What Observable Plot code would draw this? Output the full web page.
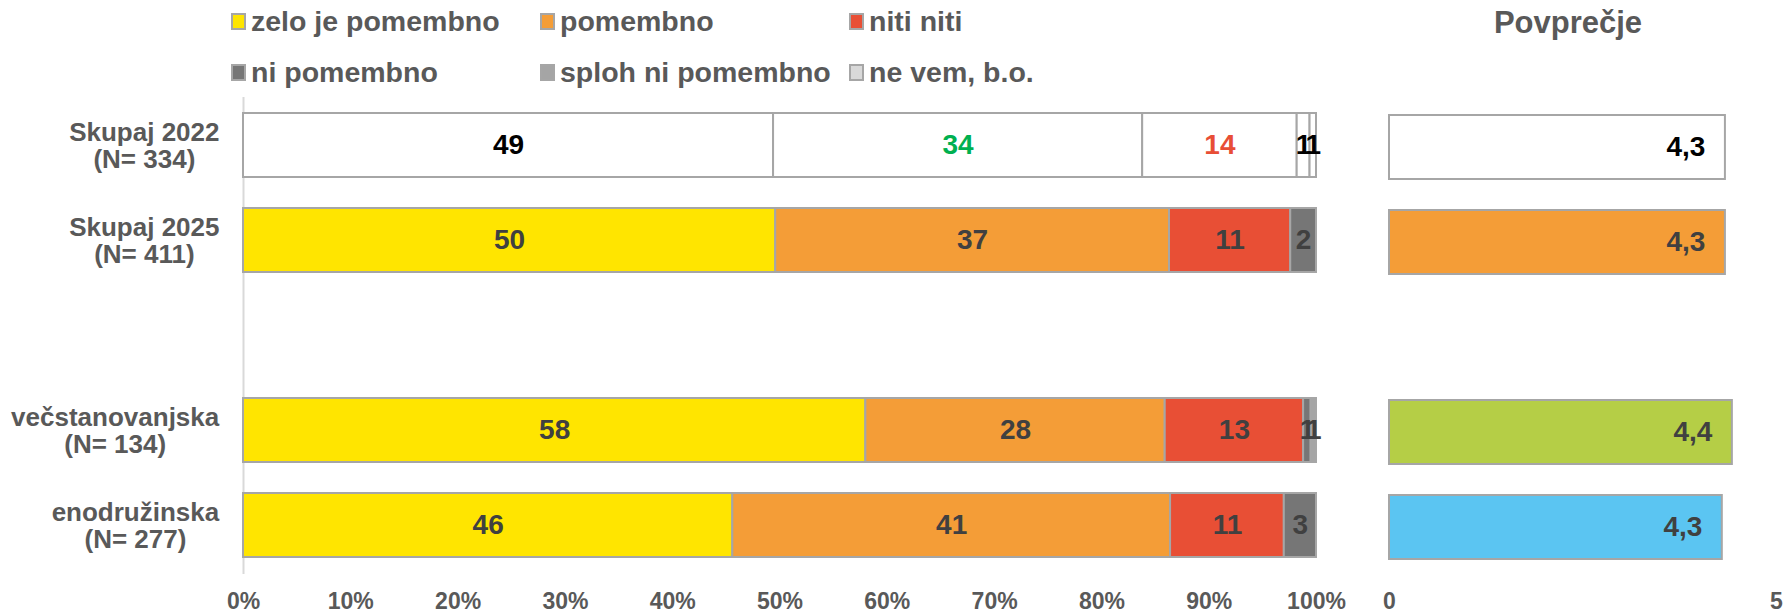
<!DOCTYPE html>
<html>
<head>
<meta charset="utf-8">
<script src="https://cdn.jsdelivr.net/npm/d3@7"></script>
<script src="https://cdn.jsdelivr.net/npm/@observablehq/plot@0.6"></script>
<style>
  body { margin: 0; background: #fff; font-family: "Liberation Sans", Arial, sans-serif; }
  #wrap { position: relative; width: 1785px; height: 616px; overflow: hidden; background: #fff; }
  #left { position: absolute; left: 0; top: 0; width: 1340px; height: 616px; }
  #right { position: absolute; left: 1340px; top: 0; width: 445px; height: 616px; }
  .leg { position: absolute; display: flex; align-items: center; font-weight: bold; font-size: 28.5px; line-height: 30px; color: #595959; white-space: nowrap; }
  .sw { width: 11px; height: 13px; border: 2px solid #A6A6A6; margin-right: 5px; box-sizing: content-box; }
  #title { position: absolute; left: 1468px; width: 200px; top: 7px; text-align: center; font-weight: bold; font-size: 31px; line-height: 31px; color: #595959; }
</style>
</head>
<body>
<div id="wrap">
  <div id="left"></div>
  <div id="right"></div>
  <div id="legend"></div>
  <div id="title"></div>
</div>
<script>
// ---- data ----
const categories = ["Skupaj 2022\n(N= 334)", "Skupaj 2025\n(N= 411)", " ", "večstanovanjska\n(N= 134)", "enodružinska\n(N= 277)"];
const rows = ["Skupaj 2022\n(N= 334)", "Skupaj 2025\n(N= 411)", "večstanovanjska\n(N= 134)", "enodružinska\n(N= 277)"];
const answers = ["zelo je pomembno", "pomembno", "niti niti", "ni pomembno", "sploh ni pomembno", "ne vem, b.o."];
const answerColors = ["#FFE500", "#F49D37", "#E84F35", "#767676", "#A5A5A5", "#D9D9D9"];
const share2022 = [49.4, 34.4, 14.4, 1.2, 0.6, 0];
const share2025 = [49.6, 36.7, 11.3, 2.4, 0, 0];
const shareVec  = [58.0, 27.9, 12.9, 0.7, 0.5, 0];
const shareEno  = [45.6, 40.8, 10.6, 3.0, 0, 0];
const label2022Colors = ["#000000", "#00B050", "#E84E36", "#000000", "#000000", "#000000"];
const averages = [4.34, 4.34, 4.43, 4.30];
const avgColors = ["#FFFFFF", "#F49D37", "#B5CE46", "#5BC5F2"];
const avgLabelColors = ["#000000", "#404040", "#404040", "#404040"];
const pctTicks = [0, 10, 20, 30, 40, 50, 60, 70, 80, 90, 100];
const avgTicks = [0, 5];
const titleText = "Povprečje";

// ---- tables ----
const shares = [share2022, share2025, shareVec, shareEno];
const table = [];
rows.forEach((cat, r) => {
  shares[r].forEach((v, i) => {
    table.push({
      cat, answer: answers[i], value: v,
      fill: r === 0 ? "#FFFFFF" : answerColors[i],
      tcolor: r === 0 ? label2022Colors[i] : "#404040"
    });
  });
});
const avgTable = rows.map((cat, r) => ({cat, avg: averages[r], fill: avgColors[r], tcolor: avgLabelColors[r]}));

const font = "'Liberation Sans', Arial, sans-serif";
const yScale = {domain: categories, paddingInner: 0.326, paddingOuter: 0.163, align: 0.5};

const left = Plot.plot({
  width: 1340, height: 616,
  marginLeft: 243, marginRight: 24, marginTop: 97, marginBottom: 42,
  style: {fontFamily: font, fontWeight: "bold", background: "transparent", overflow: "visible"},
  x: {domain: [0, 100], label: null},
  y: {...yScale, label: null},
  color: {type: "identity"},
  marks: [
    Plot.ruleX([0], {stroke: "#D9D9D9", strokeWidth: 2}),
    Plot.barX(table, Plot.stackX({x: "value", y: "cat", fill: "fill", stroke: "#A6A6A6", strokeWidth: 2})),
    Plot.text(table.filter(d => d.value > 0), Plot.stackX({
      x: "value", y: "cat", text: d => String(Math.round(d.value)),
      fill: "tcolor", fontSize: 28, fontWeight: "bold"
    })),
    Plot.axisX({ticks: pctTicks, tickFormat: d => d + "%", tickSize: 0, tickPadding: 18, fontSize: 23, fill: "#595959", anchor: "bottom", label: null}),
    Plot.axisY({tickSize: 0, tickPadding: 24, fontSize: 26, fill: "#595959", lineHeight: 1.05, textAnchor: "end", label: null})
  ]
});

const right = Plot.plot({
  width: 445, height: 616,
  marginLeft: 49, marginRight: 9, marginTop: 99, marginBottom: 40,
  style: {fontFamily: font, fontWeight: "bold", background: "transparent", overflow: "visible"},
  x: {domain: [0, 5], label: null},
  y: {...yScale, axis: null, label: null},
  color: {type: "identity"},
  marks: [
    Plot.barX(avgTable, {x: "avg", y: "cat", fill: "fill", stroke: "#A6A6A6", strokeWidth: 2}),
    Plot.text(avgTable, {x: "avg", y: "cat", text: d => d3.format(".1f")(d.avg).replace(".", ","),
      textAnchor: "end", dx: -20, fill: "tcolor", fontSize: 28, fontWeight: "bold"}),
    Plot.axisX({ticks: avgTicks, tickFormat: d => String(d), tickSize: 0, tickPadding: 16, fontSize: 23, fill: "#595959", anchor: "bottom", label: null})
  ]
});

document.getElementById("left").appendChild(left);
document.getElementById("right").appendChild(right);

// center the two-line category labels on each other (right edge kept at the tick padding)
left.querySelectorAll('g[aria-label="y-axis tick label"] text').forEach(t => {
  const w = t.getBBox().width;
  t.setAttribute("text-anchor", "middle");
  const tr = t.getAttribute("transform") || "";
  t.setAttribute("transform", tr + ` translate(${-w / 2},0)`);
});

// legend
const legendPos = [[231, 21], [540, 21], [849, 21], [231, 72], [540, 72], [849, 72]];
const legend = document.getElementById("legend");
answers.forEach((a, i) => {
  const item = document.createElement("div");
  item.className = "leg";
  item.style.left = legendPos[i][0] + "px";
  item.style.top = (legendPos[i][1] - 15) + "px";
  const sw = document.createElement("span");
  sw.className = "sw";
  sw.style.background = answerColors[i];
  const tx = document.createElement("span");
  tx.textContent = a;
  item.appendChild(sw);
  item.appendChild(tx);
  legend.appendChild(item);
});
document.getElementById("title").textContent = titleText;
</script>
</body>
</html>
